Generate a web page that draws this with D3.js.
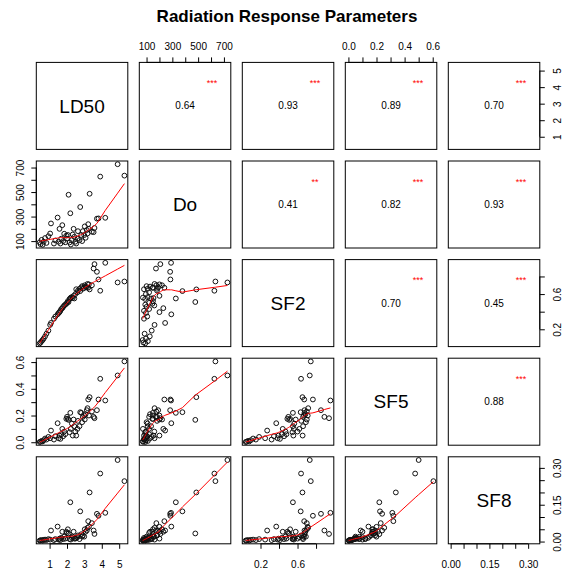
<!DOCTYPE html>
<html>
<head>
<meta charset="utf-8">
<script src="https://cdn.jsdelivr.net/npm/d3@7"></script>
<style>
  body { margin: 0; background: #fff; }
  text { font-family: "Liberation Sans", Arial, sans-serif; }
</style>
</head>
<body>
<script>
var w = 566;
var h = 574;

var varNames = ["LD50", "Do", "SF2", "SF5", "SF8"];
var ld50 = [0.43, 0.48, 0.54, 0.60, 0.66, 0.74, 0.82, 0.93, 1.03, 1.08,
            1.25, 1.33, 1.46, 1.52, 1.57, 1.62, 1.67, 1.73, 1.78, 1.84,
            1.90, 1.96, 2.00, 2.05, 2.09, 2.15, 2.19, 2.22, 2.28, 2.33,
            2.38, 2.42, 2.48, 2.53, 2.60, 2.63, 2.72, 2.76, 2.82, 2.87,
            2.91, 2.99, 3.02, 3.07, 3.14, 3.18, 3.22, 3.26, 3.30, 3.43,
            3.53, 3.58, 3.72, 3.81, 3.91, 4.20, 4.91, 5.30];
var doVals = [90, 75, 110, 70, 95, 125, 85, 140, 162, 244,
              80, 105, 292, 95, 200, 80, 120, 230, 100, 160,
              90, 145, 120, 150, 478, 89, 327, 72, 108, 154,
              200, 135, 95, 80, 120, 181, 108, 378, 149, 100,
              181, 149, 220, 127, 190, 162, 238, 200, 486, 176,
              173, 207, 283, 285, 626, 290, 727, 634];
var sf2 = [0.040, 0.050, 0.065, 0.078, 0.095, 0.120, 0.150, 0.185, 0.250, 0.272,
           0.320, 0.345, 0.370, 0.385, 0.395, 0.410, 0.430, 0.440, 0.455, 0.470,
           0.480, 0.490, 0.500, 0.520, 0.510, 0.545, 0.550, 0.560, 0.565, 0.555,
           0.580, 0.550, 0.600, 0.655, 0.620, 0.640, 0.660, 0.634, 0.675, 0.690,
           0.660, 0.670, 0.700, 0.685, 0.675, 0.715, 0.672, 0.710, 0.653, 0.700,
           0.890, 0.940, 0.853, 0.766, 0.638, 0.955, 0.732, 0.743];
var sf5 = [0.002, 0.004, 0.010, 0.006, 0.015, 0.028, 0.020, 0.040, 0.030, 0.0875,
           0.020, 0.045, 0.1425, 0.030, 0.050, 0.025, 0.060, 0.100, 0.045, 0.080,
           0.060, 0.175, 0.190, 0.175, 0.1675, 0.075, 0.220, 0.100, 0.140, 0.050,
           0.170, 0.120, 0.080, 0.050, 0.100, 0.160, 0.120, 0.225, 0.220, 0.150,
           0.190, 0.200, 0.170, 0.210, 0.240, 0.255, 0.320, 0.200, 0.3375, 0.230,
           0.190, 0.180, 0.240, 0.320, 0.475, 0.3125, 0.500, 0.605];
var sf8 = [0.004, 0.005, 0.006, 0.004, 0.007, 0.008, 0.006, 0.010, 0.008, 0.045,
           0.006, 0.010, 0.061, 0.008, 0.012, 0.006, 0.015, 0.040, 0.010, 0.020,
           0.012, 0.040, 0.035, 0.050, 0.033, 0.010, 0.160, 0.008, 0.015, 0.020,
           0.040, 0.012, 0.012, 0.015, 0.018, 0.025, 0.010, 0.123, 0.030, 0.020,
           0.025, 0.020, 0.050, 0.040, 0.045, 0.056, 0.083, 0.060, 0.200, 0.075,
           0.045, 0.031, 0.113, 0.105, 0.277, 0.117, 0.332, 0.246];

// correlations shown in the upper panels, pair order (1,2) (1,3) ... (4,5)
var corValues = ["0.64", "0.93", "0.89", "0.70", "0.41", "0.82", "0.93", "0.70", "0.45", "0.88"];
var corStars = ["***", "***", "***", "***", "**", "***", "***", "***", "***", "***"];

// tick values and which of them carry labels
var ld50Ticks = [1, 2, 3, 4, 5];
var ld50Labels = [1, 2, 3, 4, 5];
var doTicks = [100, 200, 300, 400, 500, 600, 700];
var doLabels = [100, 300, 500, 700];
var sf2Ticks = [0.2, 0.4, 0.6, 0.8];
var sf2Labels = [0.2, 0.6];
var sf5Ticks = [0, 0.1, 0.2, 0.3, 0.4, 0.5, 0.6];
var sf5Labels = [0, 0.2, 0.4, 0.6];
var sf8Ticks = [0, 0.05, 0.1, 0.15, 0.2, 0.25, 0.3];
var sf8Labels = [0, 0.15, 0.3];

var columns = [ld50, doVals, sf2, sf5, sf8];
var tickSets = [ld50Ticks, doTicks, sf2Ticks, sf5Ticks, sf8Ticks];
var labelSets = [ld50Labels, doLabels, sf2Labels, sf5Labels, sf8Labels];
var formats = [d3.format("d"), d3.format("d"), d3.format(".1f"), d3.format(".1f"), d3.format(".2f")];

var nv = varNames.length;
var x0 = 36.3, y0 = 62.4;
var pw = 91.5, ph = 87;
var stepX = 103, stepY = 98.6;

function padded(arr) {
    var e = d3.extent(arr);
    var r = e[1] - e[0];
    return [e[0] - 0.04 * r, e[1] + 0.04 * r];
}

var xScales = columns.map(function (c) { return d3.scaleLinear().domain(padded(c)).range([0, pw]); });
var yScales = columns.map(function (c) { return d3.scaleLinear().domain(padded(c)).range([ph, 0]); });

// lowess smoother (same scheme as R's clowess, f = 2/3, 3 robustness iterations)
function lowess(x, y, f, iter) {
    var order = d3.range(x.length).sort(function (a, b) { return x[a] - x[b]; });
    var xs = order.map(function (i) { return x[i]; });
    var ys = order.map(function (i) { return y[i]; });
    var n = xs.length;
    var ns = Math.max(2, Math.min(n, Math.floor(f * n + 1e-7)));
    var range = xs[n - 1] - xs[0];
    var rw = xs.map(function () { return 1; });
    var fit = new Array(n);
    for (var it = 0; it <= iter; it++) {
        var nleft = 0, nright = ns - 1;
        for (var i = 0; i < n; i++) {
            while (nright < n - 1 && xs[i] - xs[nleft] > xs[nright + 1] - xs[i]) {
                nleft++;
                nright++;
            }
            var hh = Math.max(xs[i] - xs[nleft], xs[nright] - xs[i]);
            var h9 = 0.999 * hh, h1 = 0.001 * hh;
            var wts = [], idx = [], sw = 0;
            for (var j = 0; j < n; j++) {
                var r = Math.abs(xs[j] - xs[i]);
                if (r <= h9) {
                    var wt = r <= h1 ? 1 : Math.pow(1 - Math.pow(r / hh, 3), 3);
                    wt *= rw[j];
                    if (wt > 0) { wts.push(wt); idx.push(j); sw += wt; }
                }
            }
            if (sw <= 0) { fit[i] = ys[i]; continue; }
            var a = 0, c = 0, k;
            for (k = 0; k < idx.length; k++) a += wts[k] / sw * xs[idx[k]];
            for (k = 0; k < idx.length; k++) c += wts[k] / sw * Math.pow(xs[idx[k]] - a, 2);
            var v = 0;
            if (Math.sqrt(c) > 0.001 * range) {
                var b = (xs[i] - a) / c;
                for (k = 0; k < idx.length; k++) v += wts[k] / sw * (1 + b * (xs[idx[k]] - a)) * ys[idx[k]];
            } else {
                for (k = 0; k < idx.length; k++) v += wts[k] / sw * ys[idx[k]];
            }
            fit[i] = v;
        }
        if (it === iter) break;
        var res = ys.map(function (yy, q) { return yy - fit[q]; });
        var ar = res.map(Math.abs).sort(function (p, q) { return p - q; });
        var m1 = Math.floor(n / 2);
        var cmad = 3 * (ar[m1] + ar[n - m1 - 1]);
        if (cmad < 1e-7 * d3.mean(ar)) break;
        rw = res.map(function (rr) {
            rr = Math.abs(rr);
            if (rr <= 0.001 * cmad) return 1;
            if (rr <= 0.999 * cmad) return Math.pow(1 - Math.pow(rr / cmad, 2), 2);
            return 0;
        });
    }
    return xs.map(function (xx, q) { return [xx, fit[q]]; });
}

var svg = d3.select("body")
    .append("svg")
    .attr("width", w)
    .attr("height", h);

svg.append("rect").attr("width", w).attr("height", h).attr("fill", "#fff");

svg.append("text")
    .attr("x", 287)
    .attr("y", 22)
    .attr("text-anchor", "middle")
    .style("font-size", "17px")
    .style("font-weight", "bold")
    .text("Radiation Response Parameters");

function drawAxis(g, side, k) {
    var ticks = tickSets[k];
    var labs = labelSets[k];
    var fmt = formats[k];
    var vertical = side === "left" || side === "right";
    var scale = vertical ? yScales[k] : xScales[k];
    var axis;
    if (side === "top") axis = d3.axisTop(scale);
    if (side === "bottom") axis = d3.axisBottom(scale);
    if (side === "left") axis = d3.axisLeft(scale);
    if (side === "right") axis = d3.axisRight(scale);
    axis.tickValues(ticks)
        .tickSize(5)
        .tickSizeOuter(0)
        .tickFormat(function (d) {
            return labs.some(function (l) { return Math.abs(l - d) < 1e-9; }) ? fmt(d) : "";
        });

    var ag = g.append("g");
    if (side === "bottom") ag.attr("transform", "translate(0," + ph + ")");
    if (side === "right") ag.attr("transform", "translate(" + pw + ",0)");
    ag.call(axis);
    ag.select(".domain").remove();
    ag.selectAll(".tick line").attr("stroke", "#000").attr("stroke-width", 1);

    var p0 = scale(ticks[0]), p1 = scale(ticks[ticks.length - 1]);
    ag.append("line")
        .attr("x1", vertical ? 0 : p0).attr("x2", vertical ? 0 : p1)
        .attr("y1", vertical ? p0 : 0).attr("y2", vertical ? p1 : 0)
        .attr("stroke", "#000");

    var txt = ag.selectAll(".tick text")
        .attr("fill", "#000")
        .style("font-size", "10px")
        .style("font-family", "'Liberation Sans', Arial, sans-serif")
        .attr("text-anchor", "middle")
        .attr("x", 0)
        .attr("y", 0)
        .attr("dy", "0.35em");
    if (side === "top") txt.attr("y", -15.5);
    if (side === "bottom") txt.attr("y", 20.3);
    if (side === "left") txt.attr("transform", "translate(-15.5,0) rotate(-90)");
    if (side === "right") txt.attr("transform", "translate(18,0) rotate(-90)");
}

var pairIndex = 0;
var pairMap = {};
for (var a = 0; a < nv; a++) {
    for (var b = a + 1; b < nv; b++) {
        pairMap[a + "_" + b] = pairIndex++;
    }
}

var line = d3.line();

for (var i = 0; i < nv; i++) {
    for (var j = 0; j < nv; j++) {
        var g = svg.append("g")
            .attr("transform", "translate(" + (x0 + j * stepX) + "," + (y0 + i * stepY) + ")");

        if (i > j) {
            var xs = xScales[j], ys = yScales[i];
            var xv = columns[j], yv = columns[i];
            g.selectAll("circle")
                .data(d3.range(xv.length))
                .enter()
                .append("circle")
                .attr("cx", function (d) { return xs(xv[d]); })
                .attr("cy", function (d) { return ys(yv[d]); })
                .attr("r", 2.4)
                .attr("fill", "none")
                .attr("stroke", "#111")
                .attr("stroke-width", 1);

            var sm = lowess(xv, yv, 2 / 3, 3);
            line.x(function (d) { return xs(d[0]); })
                .y(function (d) { return ys(d[1]); });
            g.append("path")
                .attr("d", line(sm))
                .attr("fill", "none")
                .attr("stroke", "#ff0000")
                .attr("stroke-width", 1);
        } else if (i < j) {
            var pi = pairMap[i + "_" + j];
            g.append("text")
                .attr("x", pw / 2)
                .attr("y", ph / 2)
                .attr("dy", "0.35em")
                .attr("text-anchor", "middle")
                .style("font-size", "10px")
                .text(corValues[pi]);
            g.append("text")
                .attr("x", pw - 18.7)
                .attr("y", 23.5)
                .attr("text-anchor", "middle")
                .attr("fill", "#ff0000")
                .style("font-size", "9px")
                .text(corStars[pi]);
        } else {
            g.append("text")
                .attr("x", pw / 2)
                .attr("y", ph / 2)
                .attr("dy", "0.35em")
                .attr("text-anchor", "middle")
                .style("font-size", "19px")
                .text(varNames[i]);
        }

        g.append("rect")
            .attr("width", pw)
            .attr("height", ph)
            .attr("fill", "none")
            .attr("stroke", "#000")
            .attr("stroke-width", 1);

        if (i === 0 && j % 2 === 1) drawAxis(g, "top", j);
        if (i === nv - 1 && j % 2 === 0) drawAxis(g, "bottom", j);
        if (j === 0 && i % 2 === 1) drawAxis(g, "left", i);
        if (j === nv - 1 && i % 2 === 0) drawAxis(g, "right", i);
    }
}
</script>
</body>
</html>
